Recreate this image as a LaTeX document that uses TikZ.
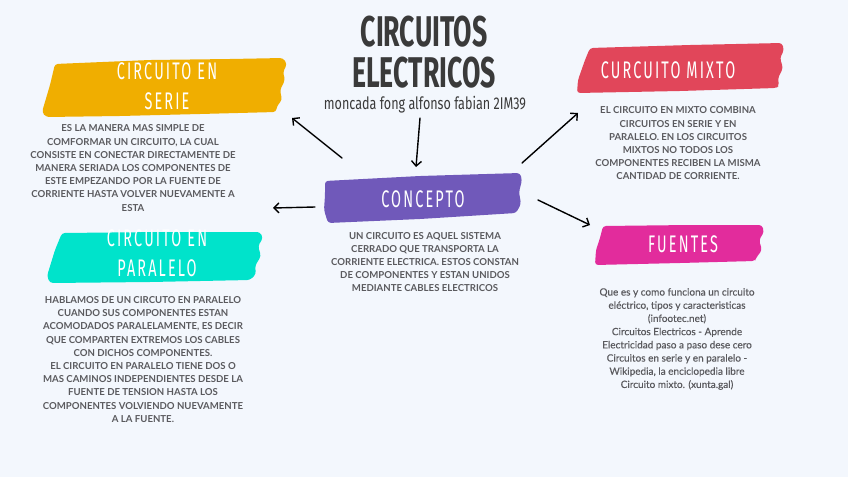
\documentclass[tikz,border=0pt]{standalone}
\usepackage{fontspec}
\usetikzlibrary{arrows.meta}
\newfontfamily\handfont[FakeStretch=0.62]{Fira Sans}
\newfontfamily\subfont[FakeStretch=0.74]{Fira Sans}
\newfontfamily\bannerfont[FakeStretch=0.6,LetterSpace=9]{Fira Sans}
\newfontfamily\bodyfont{Lato}
\newfontfamily\srcfont[FakeBold=0.4]{Lato}
\definecolor{bgc}{HTML}{F3F7FD}
\definecolor{yel}{HTML}{F0AE00}
\definecolor{pur}{HTML}{7059BA}
\definecolor{redc}{HTML}{E1465A}
\definecolor{mag}{HTML}{E22C9C}
\definecolor{teal2}{HTML}{00E3CB}
\definecolor{bodygray}{HTML}{5A5A5E}
\definecolor{titlegray}{HTML}{3A3A3A}
\tikzset{
  banner/.style={rounded corners=3pt},
  bannertext/.style={text=white, font=\bannerfont\fontsize{24}{30}\selectfont, align=center, inner sep=0pt},
  bodytext/.style={text=bodygray, font=\bodyfont\bfseries\fontsize{9.6}{13.2}\selectfont, align=center, inner sep=0pt},
  srctext/.style={text=bodygray, font=\srcfont\fontsize{10}{13.2}\selectfont, align=center, inner sep=0pt},
  arr/.style={draw=black, line width=1.4pt, line cap=round, -{Straight Barb[length=5pt,width=10pt,line width=1.4pt]}}
}
\begin{document}
\begin{tikzpicture}[x=1pt,y=-1pt]
\useasboundingbox (0,0) rectangle (848,477);
\fill[bgc] (0,0) rectangle (848,477);

% banners
\fill[yel,banner] (55,64) -- (150,60) -- (230,59) -- (283,58) -- (287,64) -- (283,72) -- (285,80) -- (280,90) -- (282,100) -- (277,106) -- (276,112) -- (200,114) -- (120,116) -- (46,117) -- (42,112) -- (50,85) -- cycle;
\fill[teal2,banner] (62,233) -- (160,232) -- (260,232) -- (263,238) -- (258,246) -- (261,256) -- (255,266) -- (256,274) -- (250,280) -- (150,282) -- (50,283) -- (47,276) -- (55,250) -- cycle;
\fill[pur,banner] (325,181) -- (420,176) -- (520,173) -- (522,180) -- (519,192) -- (521,204) -- (516,213) -- (420,219) -- (328,223) -- (324,210) -- (325,195) -- cycle;
\fill[redc,banner] (590,48) -- (690,45) -- (782,43) -- (784,50) -- (780,58) -- (783,68) -- (778,78) -- (779,86) -- (776,88) -- (680,91) -- (577,93) -- (578,80) -- (585,60) -- cycle;
\fill[mag,banner] (603,226) -- (690,225) -- (762,225) -- (764,232) -- (759,240) -- (762,250) -- (756,258) -- (755,261) -- (680,263) -- (595,265) -- (596,250) -- (600,238) -- cycle;

% title
\node[text=titlegray, font=\handfont\bfseries\fontsize{43}{41}\selectfont, align=center, inner sep=0pt] (title) at (424,52) {CIRCUITOS\\ELECTRICOS};
\node[text=titlegray, font=\subfont\fontsize{17}{18}\selectfont, inner sep=0pt] (author) at (425,105) {moncada fong alfonso fabian 2IM39};

% banner labels
\node[bannertext] (serie) at (167,86) {CIRCUITO EN\\SERIE};
\node[bannertext] (paralelo) at (157,253) {CIRCUITO EN\\PARALELO};
\node[bannertext] (concepto) at (423,199) {CONCEPTO};
\node[bannertext] (mixto) at (668,70) {CURCUITO MIXTO};
\node[bannertext] (fuentes) at (683,244) {FUENTES};

% body texts
\node[bodytext] (serietxt) at (133,168) {ES LA MANERA MAS SIMPLE DE\\COMFORMAR UN CIRCUITO, LA CUAL\\CONSISTE EN CONECTAR DIRECTAMENTE DE\\MANERA SERIADA LOS COMPONENTES DE\\ESTE EMPEZANDO POR LA FUENTE DE\\CORRIENTE HASTA VOLVER NUEVAMENTE A\\ESTA};
\node[bodytext] (conceptotxt) at (425,262) {UN CIRCUITO ES AQUEL SISTEMA\\CERRADO QUE TRANSPORTA LA\\CORRIENTE ELECTRICA. ESTOS CONSTAN\\DE COMPONENTES Y ESTAN UNIDOS\\MEDIANTE CABLES ELECTRICOS};
\node[bodytext] (mixtotxt) at (678,143.5) {EL CIRCUITO EN MIXTO COMBINA\\CIRCUITOS EN SERIE Y EN\\PARALELO. EN LOS CIRCUITOS\\MIXTOS NO TODOS LOS\\COMPONENTES RECIBEN LA MISMA\\CANTIDAD DE CORRIENTE.};
\node[bodytext] (paralelotxt) at (143,359.5) {HABLAMOS DE UN CIRCUTO EN PARALELO\\CUANDO SUS COMPONENTES ESTAN\\ACOMODADOS PARALELAMENTE, ES DECIR\\QUE COMPARTEN EXTREMOS LOS CABLES\\CON DICHOS COMPONENTES.\\EL CIRCUITO EN PARALELO TIENE DOS O\\MAS CAMINOS INDEPENDIENTES DESDE LA\\FUENTE DE TENSION HASTA LOS\\COMPONENTES VOLVIENDO NUEVAMENTE\\A LA FUENTE.};
\node[srctext] (fuentestxt) at (677,339) {Que es y como funciona un circuito\\eléctrico, tipos y caracteristicas\\(infootec.net)\\Circuitos Electricos - Aprende\\Electricidad paso a paso dese cero\\Circuitos en serie y en paralelo -\\Wikipedia, la enciclopedia libre\\Circuito mixto. (xunta.gal)};

% arrow end points
\coordinate (a1s) at (420,118); \coordinate (a1e) at (416,167);
\coordinate (a2s) at (342,158); \coordinate (a2e) at (292,118);
\coordinate (a3s) at (315,207); \coordinate (a3e) at (273,208);
\coordinate (a4s) at (522,163); \coordinate (a4e) at (578,113);
\coordinate (a5s) at (538,200); \coordinate (a5e) at (590,225);

\draw[arr] (a1s) -- (a1e);
\draw[arr] (a2s) -- (a2e);
\draw[arr] (a3s) -- (a3e);
\draw[arr] (a4s) -- (a4e);
\draw[arr] (a5s) -- (a5e);
\end{tikzpicture}
\end{document}
